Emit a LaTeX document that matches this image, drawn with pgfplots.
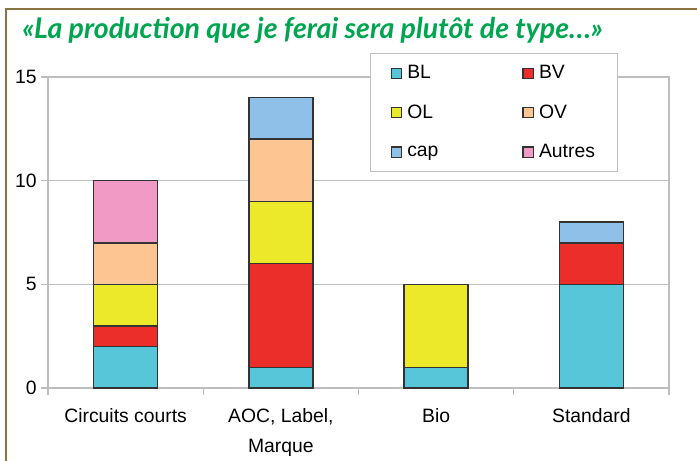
\documentclass[border=0pt]{standalone}
\usepackage{pgfplots}
\pgfplotsset{compat=1.18}
\usepackage{fontspec}
\setmainfont{Liberation Sans}
\newfontfamily\titlefont{Lato}
\definecolor{cBL}{RGB}{86,198,216}
\definecolor{cBV}{RGB}{236,46,43}
\definecolor{cOL}{RGB}{236,232,42}
\definecolor{cOV}{RGB}{252,197,146}
\definecolor{ccap}{RGB}{142,192,232}
\definecolor{cAut}{RGB}{242,154,198}
\definecolor{frame}{RGB}{140,115,65}
\definecolor{titlegreen}{RGB}{0,165,80}
\definecolor{gridgrey}{RGB}{190,190,190}
\begin{document}
\begin{tikzpicture}
\useasboundingbox (0,0) rectangle (522.75pt,345.75pt);
\draw[color=frame, line width=1.2pt] (4.5pt,0) -- (4.5pt,339pt) -- (522.75pt,339pt);
\node[anchor=base west, inner sep=0, font=\titlefont\bfseries\itshape\fontsize{21.4}{24}\selectfont, text=titlegreen] at (16.5pt,317pt) {«La production que je ferai sera plutôt de type…»};
\begin{axis}[
  at={(36pt,54.75pt)}, anchor=south west,
  scale only axis, width=465.75pt, height=233.25pt,
  ybar stacked, bar width=48pt,
  xmin=-0.5, xmax=3.5, ymin=0, ymax=15,
  xtick={0,1,2,3},
  xticklabels={Circuits courts,{AOC, Label,\\Marque},Bio,Standard},
  xticklabel style={align=center, yshift=-7pt},
  minor xtick={-0.5,0.5,1.5,2.5,3.5},
  ytick={0,5,10,15},
  tick align=outside,
  x tick style={draw=none},
  minor x tick style={draw=gridgrey, line width=0.9pt},
  minor tick length=5pt,
  y tick style={draw=gridgrey, line width=0.9pt},
  major tick length=5pt,
  ymajorgrids, grid style={draw=gridgrey, line width=0.9pt},
  axis line style={draw=gridgrey, line width=0.9pt},
  tick pos=left,
  ticklabel style={font=\fontsize{14.5}{22}\selectfont},
  /pgf/number format/assume math mode=true,
  every axis plot/.append style={draw=black!80, line width=1.1pt},
  legend columns=2,
  legend cell align=left,
  legend image code/.code={\draw[#1, draw=black!80, line width=0.9pt] (0pt,-3.8pt) rectangle (7.6pt,3.8pt);},
  legend style={at={(0.5185,1.077)}, anchor=north west, draw=gridgrey, line width=0.9pt,
    font=\fontsize{14.5}{16}\selectfont, row sep=14pt, inner xsep=15pt, inner ysep=7pt,
    /tikz/every odd column/.append style={column sep=2pt},
    /tikz/every even column/.append style={column sep=61pt}},
]
\addplot[fill=cBL] coordinates {(0,2) (1,1) (2,1) (3,5)};
\addplot[fill=cBV] coordinates {(0,1) (1,5) (2,0) (3,2)};
\addplot[fill=cOL] coordinates {(0,2) (1,3) (2,4) (3,0)};
\addplot[fill=cOV] coordinates {(0,2) (1,3) (2,0) (3,0)};
\addplot[fill=ccap] coordinates {(0,0) (1,2) (2,0) (3,1)};
\addplot[fill=cAut] coordinates {(0,3) (1,0) (2,0) (3,0)};
\legend{BL,BV,OL,OV,cap,Autres}
\end{axis}
\end{tikzpicture}
\end{document}
